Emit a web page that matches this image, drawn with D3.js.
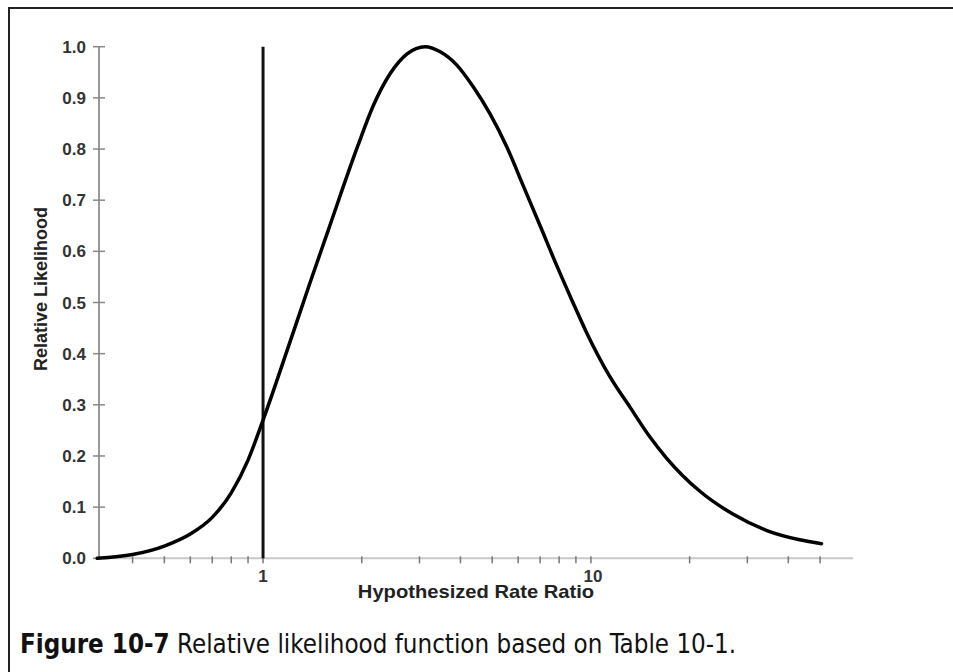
<!DOCTYPE html>
<html>
<head>
<meta charset="utf-8">
<script src="https://cdn.jsdelivr.net/npm/d3@7"></script>
<style>
  body { margin: 0; background: #fff; }
  svg { display: block; }
</style>
</head>
<body>
<div id="chart"></div>
<script>
// Values
const rateRatio = [0.312, 0.4, 0.5, 0.6, 0.7, 0.8, 0.9, 1.0, 1.21, 1.39, 1.6, 1.94, 2.17, 2.44, 2.75, 3.12,
                   3.47, 3.9, 4.37, 4.92, 5.55, 6.21, 6.99, 7.88, 8.75, 9.72, 11.4, 13.2, 15.1, 17.0, 21.5, 27.1, 34.4, 43.3, 50.5];
const likelihood = [0.0, 0.0074, 0.024, 0.0475, 0.08, 0.128, 0.192, 0.27, 0.424, 0.538, 0.651, 0.804, 0.885, 0.947, 0.986, 1.0,
                    0.99, 0.964, 0.922, 0.869, 0.803, 0.729, 0.651, 0.571, 0.5045, 0.44, 0.356, 0.294, 0.238, 0.196, 0.131, 0.0865, 0.0543, 0.0363, 0.0285];
const xTicks = [0.4, 0.5, 0.6, 0.7, 0.8, 0.9, 1, 2, 3, 4, 5, 6, 7, 8, 9, 10, 20, 30, 40, 50];
const xTickLabels = [1, 10];
const yTicks = [0, 0.1, 0.2, 0.3, 0.4, 0.5, 0.6, 0.7, 0.8, 0.9, 1.0];
const referenceLine = 1;

const width = 953, height = 672;
const axisFont = "Liberation Sans, Arial, sans-serif";

const svg = d3.select("#chart").append("svg")
    .attr("width", width)
    .attr("height", height);

// frame
svg.append("path")
    .attr("d", "M9,672 V8 H953")
    .attr("fill", "none")
    .attr("stroke", "#222")
    .attr("stroke-width", 2);

const x = d3.scaleLog().domain([0.316, 63]).range([99, 853]);
const y = d3.scaleLinear().domain([0, 1]).range([558.3, 46.7]);

// x axis
const gx = svg.append("g");
gx.append("line")
    .attr("x1", x.range()[0]).attr("x2", x.range()[1])
    .attr("y1", y(0)).attr("y2", y(0))
    .attr("stroke", "#c8c8c8").attr("stroke-width", 2);
gx.selectAll(".xt").data(xTicks).enter().append("line")
    .attr("x1", d => x(d)).attr("x2", d => x(d))
    .attr("y1", y(0) - 2).attr("y2", y(0) + 5)
    .attr("stroke", "#777").attr("stroke-width", 1.5);
gx.selectAll(".xl").data(xTickLabels).enter().append("text")
    .attr("x", d => x(d) + (d >= 10 ? 2 : 0))
    .attr("y", 582)
    .attr("text-anchor", "middle")
    .attr("font-family", axisFont)
    .attr("font-weight", "bold")
    .attr("font-size", 17)
    .attr("fill", "#333")
    .text(d => d);

// y axis
const gy = svg.append("g");
gy.append("line")
    .attr("x1", x.range()[0]).attr("x2", x.range()[0])
    .attr("y1", y(1)).attr("y2", y(0))
    .attr("stroke", "#999").attr("stroke-width", 2);
gy.selectAll(".yt").data(yTicks).enter().append("line")
    .attr("x1", x.range()[0] - 6).attr("x2", x.range()[0] + 6)
    .attr("y1", d => y(d)).attr("y2", d => y(d))
    .attr("stroke", "#888").attr("stroke-width", 1.5);
gy.selectAll(".yl").data(yTicks).enter().append("text")
    .attr("x", x.range()[0] - 13)
    .attr("y", d => y(d))
    .attr("dy", "0.36em")
    .attr("text-anchor", "end")
    .attr("font-family", axisFont)
    .attr("font-weight", "bold")
    .attr("font-size", 17)
    .attr("fill", "#333")
    .text(d => d3.format(".1f")(d));

// axis titles
svg.append("text")
    .attr("transform", "translate(476,598) scale(1.12,1)")
    .attr("text-anchor", "middle")
    .attr("font-family", axisFont)
    .attr("font-weight", "bold")
    .attr("font-size", 18)
    .attr("fill", "#222")
    .text("Hypothesized Rate Ratio");

svg.append("text")
    .attr("transform", "translate(47,289) rotate(-90)")
    .attr("text-anchor", "middle")
    .attr("font-family", axisFont)
    .attr("font-weight", "bold")
    .attr("font-size", 18)
    .attr("fill", "#222")
    .text("Relative Likelihood");

// vertical reference at rate ratio 1
svg.append("line")
    .attr("x1", x(referenceLine)).attr("x2", x(referenceLine))
    .attr("y1", y(1)).attr("y2", y(0))
    .attr("stroke", "#111").attr("stroke-width", 3);

// likelihood curve
const pts = rateRatio.map((d, i) => [d, likelihood[i]]);
const line = d3.line()
    .x(d => x(d[0]))
    .y(d => y(d[1]))
    .curve(d3.curveMonotoneX);

svg.append("path")
    .datum(pts)
    .attr("d", line)
    .attr("fill", "none")
    .attr("stroke", "#000")
    .attr("stroke-width", 3.5)
    .attr("stroke-linecap", "round");

// caption
const cap = svg.append("text")
    .attr("x", 20).attr("y", 653)
    .attr("font-family", "DejaVu Sans Condensed, DejaVu Sans, sans-serif")
    .attr("font-size", 25.7)
    .attr("fill", "#111");
cap.append("tspan").attr("font-weight", "bold").text("Figure 10-7");
cap.append("tspan").text(" Relative likelihood function based on Table 10-1.");
</script>
</body>
</html>
